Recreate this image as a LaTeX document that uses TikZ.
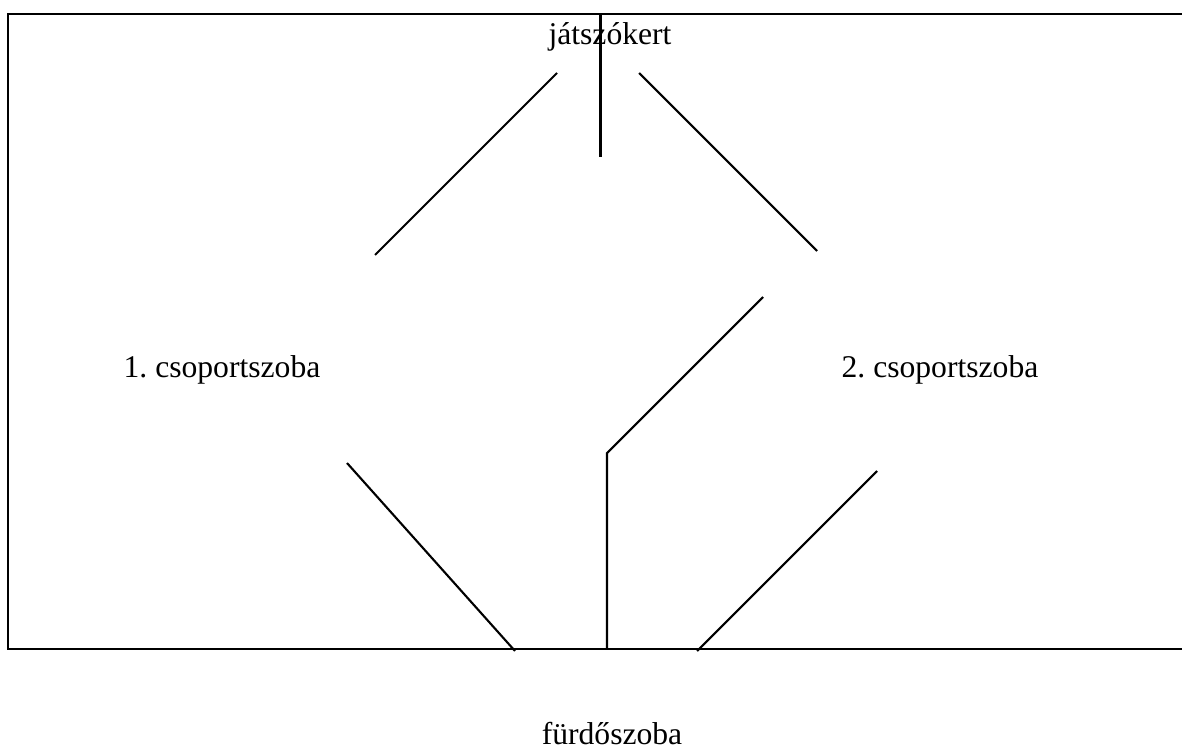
\documentclass[tikz,border=0pt]{standalone}
\usepackage{fontspec}
\setmainfont{Liberation Serif}
\frenchspacing
\tikzset{room/.style={inner sep=0pt, font=\fontsize{18}{22}\selectfont}, wall/.style={line width=1.2pt, line cap=butt}}

\begin{document}
\begin{tikzpicture}[x=0.02cm, y=-0.02cm]
      \useasboundingbox (0,0) rectangle (1182,746);
      \node[room, anchor=base] (kert) at (610,45) {játszókert};
      \node[room, anchor=base] (csop1) at (222,377) {1. csoportszoba};
      \node[room, anchor=base] (csop2) at (940,377) {2. csoportszoba};
      \node[room, anchor=base] (furdo) at (612,744) {fürdőszoba};
      \coordinate (TL) at (8,14);
      \coordinate (TR) at (1182,14);
      \coordinate (BL) at (8,649);
      \coordinate (BR) at (1182,649);
      \coordinate (T) at (600.5,14);
      \coordinate (Tend) at (600.5,157);
      \coordinate (A1) at (557,73);
      \coordinate (A2) at (375,255);
      \coordinate (B1) at (639,73);
      \coordinate (B2) at (817,251);
      \coordinate (C1) at (763,297);
      \coordinate (C2) at (607,453);
      \coordinate (C3) at (607,649);
      \coordinate (D1) at (347,463);
      \coordinate (D2) at (515,651);
      \coordinate (E1) at (877,471);
      \coordinate (E2) at (697,651);
      \draw[wall] (TR) -- (TL) -- (BL) -- (BR);
      \draw[wall] (T) -- (Tend);
      \draw[wall] (A1) -- (A2);
      \draw[wall] (B1) -- (B2);
      \draw[wall] (C1) -- (C2) -- (C3);
      \draw[wall] (D1) -- (D2);
      \draw[wall] (E1) -- (E2);
    \end{tikzpicture}
\end{document}
